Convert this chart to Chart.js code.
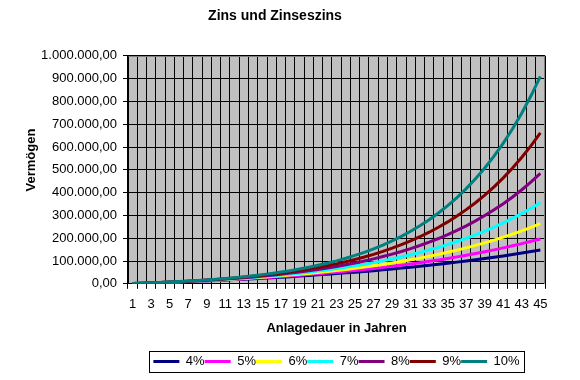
<!DOCTYPE html>
<html>
<head>
<meta charset="utf-8">
<script src="https://cdn.jsdelivr.net/npm/chart.js@4.4.0/dist/chart.umd.min.js"></script>
<style>
  html, body { margin: 0; padding: 0; background: #fff; }
  #wrap { width: 580px; height: 380px; }
</style>
</head>
<body>
<div id="wrap"><canvas id="myChart" width="580" height="380"></canvas></div>
<script>
const years = [1, 2, 3, 4, 5, 6, 7, 8, 9, 10, 11, 12, 13, 14, 15, 16, 17, 18, 19, 20, 21, 22, 23,
    24, 25, 26, 27, 28, 29, 30, 31, 32, 33, 34, 35, 36, 37, 38, 39, 40, 41, 42, 43, 44, 45];

const rateLabels = ["4%", "5%", "6%", "7%", "8%", "9%", "10%"];
const rateColors = ["#000080", "#FF00FF", "#FFFF00", "#00FFFF", "#800080", "#800000", "#008080"];

// values (Vermögen per year)
const zins4 = [1200, 2500, 3800, 5200, 6600, 8100, 9700, 11300, 13000, 14700, 16500, 18400, 20400, 22400,
    24500, 26800, 29100, 31400, 33900, 36500, 39200, 42000, 44900, 47900, 51100, 54300, 57700, 61300,
    64900, 68800, 72700, 76900, 81200, 85600, 90300, 95100, 100200, 105400, 110800, 116500, 122400,
    128500, 134900, 141500, 148400];
const zins5 = [1200, 2500, 3900, 5300, 6800, 8400, 10000, 11800, 13600, 15500, 17500, 19600, 21800, 24200,
    26600, 29200, 31800, 34700, 37600, 40800, 44000, 47500, 51100, 54800, 58800, 63000, 67400, 72000,
    76800, 81900, 87200, 92800, 98700, 104800, 111300, 118100, 125300, 132800, 140600, 148900, 157600,
    166700, 176200, 186300, 196800];
const zins6 = [1200, 2600, 3900, 5400, 7000, 8600, 10400, 12300, 14200, 16300, 18600, 20900, 23400, 26000,
    28800, 31800, 35000, 38300, 41800, 45600, 49600, 53800, 58200, 63000, 68000, 73300, 78900, 84900,
    91200, 98000, 105100, 112600, 120600, 129100, 138100, 147600, 157700, 168400, 179700, 191800, 204500,
    218000, 232300, 247500, 263600];
const zins7 = [1200, 2600, 4000, 5500, 7200, 8900, 10800, 12800, 14900, 17200, 19700, 22300, 25100, 28100,
    31300, 34700, 38400, 42300, 46600, 51100, 55900, 61000, 66600, 72500, 78800, 85500, 92800, 100500,
    108800, 117700, 127100, 137300, 148100, 159800, 172200, 185500, 199700, 214900, 231200, 248600, 267300,
    287300, 308600, 331500, 355900];
const zins8 = [1300, 2600, 4100, 5600, 7300, 9200, 11200, 13300, 15600, 18100, 20800, 23800, 26900, 30300,
    34000, 38000, 42300, 46900, 51900, 57300, 63100, 69400, 76200, 83600, 91500, 100100, 109400, 119400,
    130200, 141800, 154400, 168000, 182700, 198600, 215700, 234300, 254200, 275800, 299200, 324300, 351500,
    380900, 412600, 446900, 483900];
const zins9 = [1300, 2600, 4100, 5800, 7500, 9500, 11600, 13900, 16400, 19100, 22100, 25300, 28900, 32700,
    37000, 41500, 46500, 52000, 57900, 64400, 71400, 79100, 87500, 96600, 106600, 117400, 129300, 142200,
    156200, 171500, 188200, 206400, 226300, 247900, 271500, 297200, 325200, 355700, 389000, 425200, 464700,
    507800, 554800, 606000, 661800];
const zins10 = [1300, 2700, 4200, 5900, 7700, 9800, 12000, 14500, 17200, 20200, 23400, 27100, 31000, 35400,
    40200, 45500, 51300, 57700, 64700, 72500, 81000, 90300, 100600, 111900, 124400, 138100, 153200, 169800,
    188000, 208100, 230200, 254400, 281100, 310500, 342800, 378400, 417500, 460500, 507800, 559900, 617100,
    680100, 749400, 825600, 909400];

const yMin = 0;
const yMax = 1000000;
const yStep = 100000;

const allSeries = [zins4, zins5, zins6, zins7, zins8, zins9, zins10];

function formatDE(v) {
    let s = Math.round(v).toString();
    s = s.replace(/\B(?=(\d{3})+(?!\d))/g, ".");
    return s + ",00";
}

const FONT = "'Liberation Sans', Arial, sans-serif";

// gray plot area, gray frame on top and right, box round the legend
const plotFrame = {
    id: "plotFrame",
    beforeDraw(chart) {
        const a = chart.chartArea;
        const ctx = chart.ctx;
        ctx.save();
        ctx.fillStyle = "#FFFFFF";
        ctx.fillRect(0, 0, chart.width, chart.height);
        ctx.fillStyle = "#C0C0C0";
        ctx.fillRect(a.left, a.top, a.right - a.left, a.bottom - a.top);
        ctx.restore();
    },
    beforeDatasetsDraw(chart) {
        const a = chart.chartArea;
        const ctx = chart.ctx;
        ctx.save();
        ctx.strokeStyle = "#808080";
        ctx.lineWidth = 1;
        ctx.beginPath();
        ctx.moveTo(Math.round(a.left) + 0.5, Math.round(a.top) + 0.5);
        ctx.lineTo(Math.round(a.right) - 0.5, Math.round(a.top) + 0.5);
        ctx.lineTo(Math.round(a.right) - 0.5, Math.round(a.bottom));
        ctx.stroke();
        ctx.restore();
    },
    afterLayout(chart) {
        // title sits a bit left of the middle, legend is centred under the plot
        const t = chart.titleBlock;
        if (t) {
            t.left = 5;
            t.right = 545;
        }
        const lg = chart.legend;
        if (lg) {
            lg.left = chart.chartArea.left;
            lg.right = chart.chartArea.right;
            lg.width = lg.right - lg.left;
        }
    },
    afterDraw(chart) {
        const ctx = chart.ctx;

        // y axis title, a little above the middle of the axis like the original
        ctx.save();
        ctx.fillStyle = "#000";
        ctx.font = "bold 13px " + FONT;
        ctx.textAlign = "center";
        ctx.textBaseline = "middle";
        ctx.translate(31, 160);
        ctx.rotate(-Math.PI / 2);
        ctx.fillText("Vermögen", 0, 0);
        ctx.restore();

        const boxes = chart.legend && chart.legend.legendHitBoxes;
        if (!boxes || !boxes.length) return;
        let l = Infinity, r = -Infinity, t = Infinity, b = -Infinity;
        boxes.forEach(h => {
            l = Math.min(l, h.left);
            r = Math.max(r, h.left + h.width);
            t = Math.min(t, h.top);
            b = Math.max(b, h.top + h.height);
        });
        ctx.save();
        ctx.strokeStyle = "#000000";
        ctx.lineWidth = 1;
        ctx.strokeRect(Math.round(l - 4) + 0.5, Math.round(t - 4) + 0.5,
            Math.round(r - l + 9), Math.round(b - t + 8));
        ctx.restore();
    }
};

document.addEventListener("DOMContentLoaded", function () {
    const canvas = document.getElementById("myChart");
    const ctx = canvas.getContext("2d");

    const datasets = allSeries.map((vals, i) => ({
        label: rateLabels[i],
        data: vals,
        borderColor: rateColors[i],
        backgroundColor: rateColors[i],
        borderWidth: 3,
        pointRadius: 0,
        tension: 0,
        fill: false,
        order: allSeries.length - i   // later series drawn on top
    }));

    new Chart(ctx, {
        type: "line",
        data: { labels: years, datasets: datasets },
        plugins: [plotFrame],
        options: {
            responsive: false,
            animation: false,
            layout: { padding: { left: 40, right: 35, top: 0, bottom: 2 } },
            plugins: {
                title: {
                    display: true,
                    text: "Zins und Zinseszins",
                    color: "#000",
                    font: { family: FONT, size: 14, weight: "bold" },
                    padding: { top: 8, bottom: 31 }
                },
                legend: {
                    position: "bottom",
                    labels: {
                        color: "#000",
                        font: { family: FONT, size: 13 },
                        usePointStyle: true,
                        pointStyle: "line",
                        pointStyleWidth: 26,
                        boxHeight: 13,
                        padding: 0,
                        sort: (a, b) => a.datasetIndex - b.datasetIndex
                    }
                },
                tooltip: { enabled: false }
            },
            scales: {
                x: {
                    offset: true,
                    grid: {
                        offset: true,
                        color: "#000",
                        lineWidth: 1,
                        drawTicks: true,
                        tickLength: 5,
                        tickColor: "#000"
                    },
                    border: { color: "#000", width: 1 },
                    ticks: {
                        autoSkip: false,
                        maxRotation: 0,
                        padding: 8,
                        color: "#000",
                        font: { family: FONT, size: 13 },
                        callback: function (val, idx) {
                            return idx % 2 === 0 ? this.getLabelForValue(val) : "";
                        }
                    },
                    title: {
                        display: true,
                        text: "Anlagedauer in Jahren",
                        color: "#000",
                        font: { family: FONT, size: 13, weight: "bold" },
                        padding: { top: 0, bottom: 19 }
                    }
                },
                y: {
                    min: yMin,
                    max: yMax,
                    afterFit(scale) { scale.width = 88; },
                    grid: {
                        color: "#000",
                        lineWidth: 1,
                        drawTicks: true,
                        tickLength: 5,
                        tickColor: "#000"
                    },
                    border: { color: "#000", width: 1 },
                    ticks: {
                        stepSize: yStep,
                        padding: 6,
                        color: "#000",
                        font: { family: FONT, size: 13 },
                        callback: v => formatDE(v)
                    },
                    title: { display: false }
                }
            }
        }
    });
});
</script>
</body>
</html>
